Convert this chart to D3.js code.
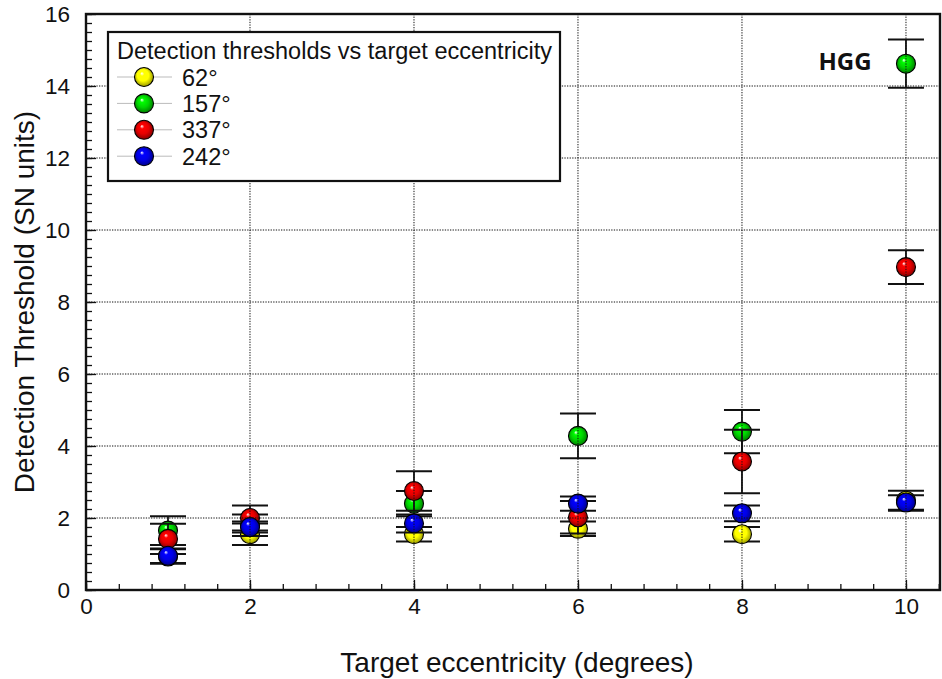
<!DOCTYPE html>
<html>
<head>
<meta charset="utf-8">
<script src="https://cdn.jsdelivr.net/npm/d3@7"></script>
<style>
  html, body { margin: 0; padding: 0; background: #fff; }
  svg { display: block; font-family: "Liberation Sans", Arial, sans-serif; }
</style>
</head>
<body>
<svg id="chart" width="942" height="679"></svg>
<script>
// Target eccentricities (degrees)
const eccentricity = [1, 2, 4, 6, 8, 10];

// Series names (target orientation) in legend order
const seriesNames = ["62°", "157°", "337°", "242°"];

// Mean detection thresholds (SN units) and error-bar half widths per series
const thr62  = [0.93, 1.55, 1.55, 1.70, 1.55, 2.48];
const err62  = [0.20, 0.30, 0.20, 0.20, 0.20, 0.28];
const thr157 = [1.65, 1.80, 2.40, 4.28, 4.40, 14.62];
const err157 = [0.40, 0.30, 0.35, 0.62, 0.60, 0.67];
const thr337 = [1.42, 2.00, 2.75, 2.02, 3.57, 8.97];
const err337 = [0.42, 0.35, 0.55, 0.45, 0.88, 0.47];
const thr242 = [0.95, 1.75, 1.85, 2.40, 2.13, 2.43];
const err242 = [0.20, 0.15, 0.25, 0.20, 0.22, 0.20];

// Axis ticks
const xMajorTicks = [0, 2, 4, 6, 8, 10];
const yMajorTicks = [0, 2, 4, 6, 8, 10, 12, 14, 16];

const colors = ["#ffff00", "#00d400", "#e60000", "#0000e6"];
const series = [
  { name: seriesNames[0], y: thr62,  e: err62,  color: colors[0] },
  { name: seriesNames[1], y: thr157, e: err157, color: colors[1] },
  { name: seriesNames[2], y: thr337, e: err337, color: colors[2] },
  { name: seriesNames[3], y: thr242, e: err242, color: colors[3] }
];

const svg = d3.select("#chart");
const plotLeft = 86, plotRight = 940, plotTop = 14, plotBottom = 590;

const x = d3.scaleLinear().domain([0, 10.415]).range([plotLeft, plotRight]);
const y = d3.scaleLinear().domain([0, 16]).range([plotBottom, plotTop]);

// Sphere gradients
const defs = svg.append("defs");
colors.forEach((c, i) => {
  const g = defs.append("radialGradient")
    .attr("id", "ball" + i)
    .attr("cx", "50%").attr("cy", "50%").attr("r", "55%")
    .attr("fx", "38%").attr("fy", "30%");
  const col = d3.color(c);
  g.append("stop").attr("offset", "0%").attr("stop-color", "#ffffff");
  g.append("stop").attr("offset", "20%").attr("stop-color", col.brighter(0.5).formatHex());
  g.append("stop").attr("offset", "55%").attr("stop-color", c);
  g.append("stop").attr("offset", "100%").attr("stop-color", col.darker(1.8).formatHex());
});

function ball(sel, cx, cy, i) {
  sel.append("circle")
    .attr("cx", cx).attr("cy", cy).attr("r", 9.5)
    .attr("fill", `url(#ball${i})`)
    .attr("stroke", "#000").attr("stroke-width", 1.1);
}

// Series: error bar then marker, each series over the previous one
const plot = svg.append("g");
series.forEach((s, i) => {
  const g = plot.append("g");
  eccentricity.forEach((ex, k) => {
    const cx = x(ex), hi = y(s.y[k] + s.e[k]), lo = y(s.y[k] - s.e[k]);
    g.append("line").attr("x1", cx).attr("x2", cx).attr("y1", hi).attr("y2", lo)
      .attr("stroke", "#111").attr("stroke-width", 1.8);
    [hi, lo].forEach(yy => g.append("line")
      .attr("x1", cx - 18).attr("x2", cx + 18).attr("y1", yy).attr("y2", yy)
      .attr("stroke", "#111").attr("stroke-width", 2));
    ball(g, cx, y(s.y[k]), i);
  });
});

// Dotted grid
const grid = svg.append("g").attr("stroke", "#111").attr("stroke-width", 1)
  .attr("stroke-dasharray", "1.3,1.3");
xMajorTicks.filter(t => t > 0).forEach(t => grid.append("line")
  .attr("x1", x(t)).attr("x2", x(t)).attr("y1", plotTop).attr("y2", plotBottom));
yMajorTicks.filter(t => t > 0 && t < 16).forEach(t => grid.append("line")
  .attr("x1", plotLeft).attr("x2", plotRight).attr("y1", y(t)).attr("y2", y(t)));

// Axes with inward ticks
const xMinor = d3.range(0, 10.41, 0.4);
const yMinor = d3.range(0, 16.01, 0.25);

const xAxisG = svg.append("g").attr("transform", `translate(0,${plotBottom})`);
xAxisG.call(d3.axisBottom(x).tickValues(xMinor).tickSize(-6).tickFormat(""));
xAxisG.call(g => g.select(".domain").remove());
const xAxisMajor = svg.append("g").attr("transform", `translate(0,${plotBottom})`)
  .call(d3.axisBottom(x).tickValues(xMajorTicks).tickSize(-10).tickPadding(8).tickFormat(d3.format("d")));
xAxisMajor.select(".domain").remove();

const yAxisG = svg.append("g").attr("transform", `translate(${plotLeft},0)`);
yAxisG.call(d3.axisLeft(y).tickValues(yMinor).tickSize(-6).tickFormat(""));
yAxisG.call(g => g.select(".domain").remove());
const yAxisMajor = svg.append("g").attr("transform", `translate(${plotLeft},0)`)
  .call(d3.axisLeft(y).tickValues(yMajorTicks).tickSize(-10).tickPadding(16).tickFormat(d3.format("d")));
yAxisMajor.select(".domain").remove();

svg.selectAll(".tick line").attr("stroke", "#111").attr("stroke-width", 1.3);
[xAxisMajor, yAxisMajor].forEach(a => a.selectAll(".tick text")
  .attr("font-size", 22.5).attr("fill", "#111")
  .attr("font-family", "Liberation Sans, Arial, sans-serif"));

// Frame
svg.append("rect").attr("x", plotLeft).attr("y", plotTop)
  .attr("width", plotRight - plotLeft).attr("height", plotBottom - plotTop)
  .attr("fill", "none").attr("stroke", "#111").attr("stroke-width", 2.4);

// Axis titles
svg.append("text")
  .attr("x", 517).attr("y", 672).attr("text-anchor", "middle")
  .attr("font-size", 28).attr("fill", "#111")
  .text("Target eccentricity (degrees)");
svg.append("text")
  .attr("transform", "translate(34,302) rotate(-90)").attr("text-anchor", "middle")
  .attr("font-size", 28).attr("fill", "#111")
  .text("Detection Threshold (SN units)");

// HGG annotation
svg.append("text")
  .attr("x", 845).attr("y", 70).attr("text-anchor", "middle")
  .attr("font-family", "Open Sans, sans-serif").attr("font-weight", "bold")
  .attr("font-size", 24).attr("fill", "#111")
  .text("HGG");

// Legend
const lg = svg.append("g");
lg.append("rect").attr("x", 108).attr("y", 32).attr("width", 452).attr("height", 149)
  .attr("fill", "#fff").attr("stroke", "#111").attr("stroke-width", 2.2);
lg.append("text").attr("x", 117).attr("y", 59)
  .attr("font-size", 23.5).attr("fill", "#111")
  .text("Detection thresholds vs target eccentricity");
series.forEach((s, i) => {
  const cy = 77 + i * 26.4;
  lg.append("line").attr("x1", 117).attr("x2", 172).attr("y1", cy).attr("y2", cy)
    .attr("stroke", "#bbb").attr("stroke-width", 1);
  ball(lg, 144, cy, i);
  lg.append("text").attr("x", 182).attr("y", cy + 8.5)
    .attr("font-size", 23.5).attr("fill", "#111").text(s.name);
});
</script>
</body>
</html>
